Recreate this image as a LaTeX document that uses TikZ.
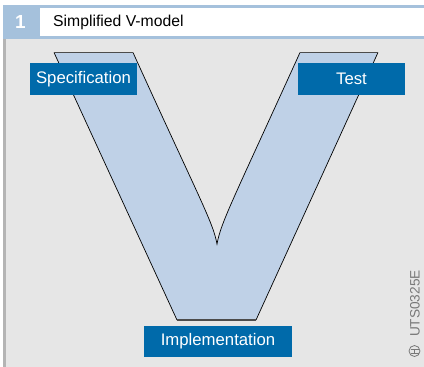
\documentclass[tikz,border=0pt]{standalone}
\usepackage{fontspec}
\setmainfont{Liberation Sans}
\definecolor{headblue}{RGB}{165,193,220}
\definecolor{panelgray}{RGB}{230,230,230}
\definecolor{edgegray}{RGB}{180,180,180}
\definecolor{vblue}{RGB}{191,209,231}
\definecolor{boxblue}{RGB}{0,106,170}
\definecolor{markgray}{RGB}{120,120,120}
\begin{document}
\begin{tikzpicture}[x=1bp, y=-1bp,
    phase/.style = {fill=boxblue, text=white, inner sep=0pt, minimum height=32bp,
                    font=\fontsize{16.8}{18}\selectfont},
    rim/.style = {draw=black!70, line width=1.3bp}]
            \useasboundingbox (0,0) rectangle (424,367);

            % Header
            \fill[headblue] (3,5) rectangle (424,39);
            \fill[white] (40,7.5) rectangle (424,35.5);
            \node[text=white, font=\fontsize{19}{20}\selectfont\bfseries] (num) at (20.5,22) {1};
            \node[anchor=west, inner sep=0pt, font=\fontsize{15.8}{18}\selectfont] (title) at (53,22) {Simplified V-model};

            % Panel
            \fill[panelgray] (3,39) rectangle (424,367);
            \fill[edgegray] (3.5,39) rectangle (6,367);

            % The V
            \fill[vblue] (54,52.5) -- (133,52.5)
                .. controls (200,200) and (213,222) .. (217,244)
                .. controls (221,222) and (233,200) .. (300,52.5)
                -- (378,52.5) -- (256,320) -- (177,320) -- cycle;
            \draw[line width=0.7bp] (54,52.5) -- (177,320);
            \draw[line width=0.7bp] (378,52.5) -- (256,320);
            \draw[line width=0.7bp] (133,52.5)
                .. controls (200,200) and (213,222) .. (217,244)
                .. controls (221,222) and (233,200) .. (300,52.5);
            \draw[rim] (54,52.5) -- (133,52.5);
            \draw[rim] (300,52.5) -- (378,52.5);
            \draw[rim] (177,320) -- (256,320);

            % Phases
            \node[phase, minimum width=107bp] (spec) at (83.5,79) {Specification};
            \node[phase, minimum width=107bp] (test) at (351.5,79) {Test};
            \node[phase, minimum width=148bp, minimum height=31bp] (impl) at (218,341.5) {Implementation};

            % Document mark
            \node[rotate=90, text=markgray, inner sep=0pt, font=\fontsize{13.7}{16}\selectfont] (code) at (415,303.5) {UTS0325E};
            \draw[markgray, line width=0.8bp] (414.5,351) circle (5.5);
            \draw[markgray, line width=0.8bp] (410.5,349) -- (418.5,349);
            \draw[markgray, line width=0.8bp] (410.5,353) -- (418.5,353);
            \draw[markgray, line width=0.8bp] (414.5,349) -- (414.5,353);
        \end{tikzpicture}
\end{document}
